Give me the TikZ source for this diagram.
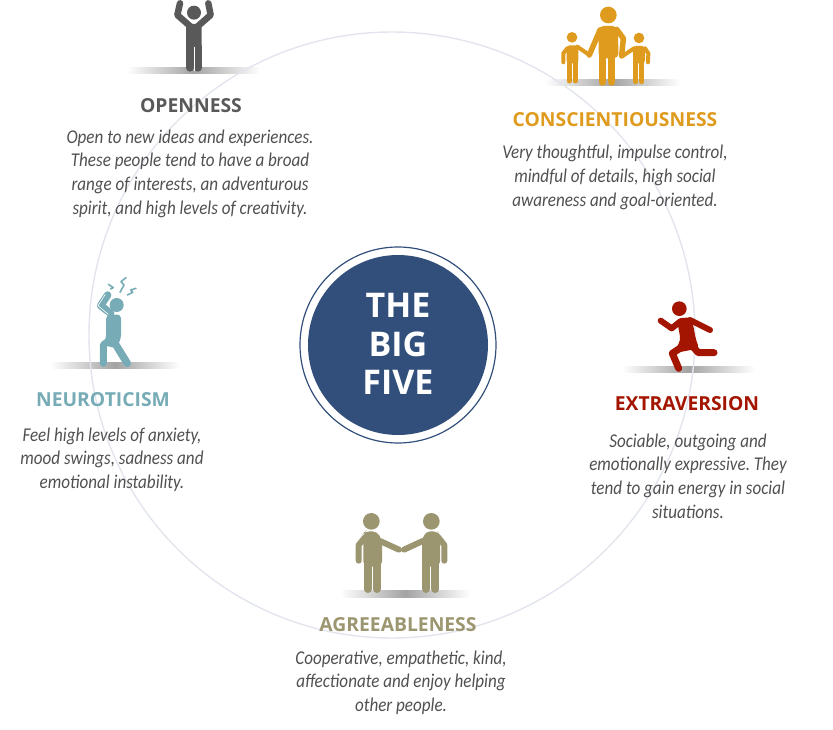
\documentclass[tikz,border=0pt]{standalone}
\usepackage{fontspec}
\setmainfont[FakeStretch=0.875]{Carlito}
\newfontfamily\titlefont{Open Sans}
\usetikzlibrary{calc}
\definecolor{opencol}{HTML}{595959}
\definecolor{conscol}{HTML}{DF9B1D}
\definecolor{neurcol}{HTML}{77ACB6}
\definecolor{extrcol}{HTML}{A31500}
\definecolor{agrecol}{HTML}{9C9670}
\definecolor{bluecol}{HTML}{324F7B}
\definecolor{ringcol}{HTML}{E2E5ED}
\definecolor{textcol}{HTML}{505050}
\tikzset{
    title/.style={font=\titlefont\bfseries\fontsize{19.3}{23}\selectfont},
    blurb/.style={align=center, text=textcol, font=\frenchspacing\itshape\fontsize{19.5}{23.7}\selectfont},
    groundshade/.style={left color=white, right color=white, middle color=black!36},
    limb/.style={line cap=round, line join=round, line width=#1},
}
\begin{document}
\begin{tikzpicture}[x=1pt, y=-1pt]
    \useasboundingbox (0,0) rectangle (833,730);

    % Ground shadows
    \fill[groundshade] (127,68) rectangle (260,74);
    \fill[groundshade] (545,80) rectangle (680,86);
    \fill[groundshade] (50,362) rectangle (180,368);
    \fill[groundshade] (622,366) rectangle (755,372);
    \fill[groundshade] (340,590) rectangle (470,597);

    % Outer ring
    \draw[ringcol, line width=1.4pt] (392,335) circle (303);

    % Centre disc
    \draw[bluecol, line width=1.2pt] (398,345) circle (98);
    \node[circle, fill=bluecol, minimum size=180pt, inner sep=0pt] (disc) at (398,345) {};
    \node[text=white, align=center, font=\titlefont\bfseries\fontsize{34}{38.5}\selectfont] (disctext) at (398,344) {THE\\BIG\\FIVE};

    % Openness figure
    \begin{scope}[shift={(120,0)}, scale=1/3, opencol]
        \fill (222,38) circle (21);
        \fill[rounded corners=4pt] (198,72) -- (245,72) -- (245,150) -- (198,150) -- cycle;
        \draw[limb=8pt] (210,140) -- (210,203);
        \draw[limb=8pt] (234,140) -- (234,203);
        \draw[white, line width=.6pt] (222,140) -- (222,212);
        \draw[limb=6.5pt] (180,10) -- (172,45) -- (212,80);
        \draw[limb=6.5pt] (265,10) -- (272,45) -- (232,80);
    \end{scope}

    % Conscientiousness figure
    \begin{scope}[shift={(540,0)}, scale=1/3, conscol]
        \fill (205,45) circle (25);
        \fill[rounded corners=5pt] (175,78) -- (233,78) -- (236,175) -- (176,175) -- cycle;
        \draw[limb=7.5pt] (188,165) -- (188,246);
        \draw[limb=7.5pt] (215,165) -- (215,246);
        \draw[limb=5.5pt] (180,90) -- (148,165);
        \draw[limb=5.5pt] (230,88) -- (250,115) -- (245,168);
        \fill (96,112) circle (16);
        \fill[rounded corners=3pt] (80,136) -- (115,136) -- (115,190) -- (80,190) -- cycle;
        \draw[limb=5pt] (88,185) -- (88,243);
        \draw[limb=5pt] (106,185) -- (106,243);
        \draw[limb=4pt] (82,145) -- (70,160) -- (70,187);
        \draw[limb=4pt] (112,140) -- (148,165);
        \fill (297,114) circle (16);
        \fill[rounded corners=3pt] (279,138) -- (315,138) -- (315,190) -- (279,190) -- cycle;
        \draw[limb=5pt] (287,185) -- (287,245);
        \draw[limb=5pt] (305,185) -- (305,245);
        \draw[limb=4pt] (315,145) -- (325,160) -- (324,187);
        \draw[limb=4pt] (282,145) -- (248,168);
    \end{scope}

    % Neuroticism figure
    \begin{scope}[shift={(40,265)}, scale=1/3, neurcol]
        \fill (230,120) circle (21);
        \fill[rounded corners=4pt] (198,150) -- (243,148) -- (243,222) -- (228,250) -- (190,240) -- (198,222) -- cycle;
        \draw[limb=7pt] (205,228) -- (190,240) -- (190,295);
        \draw[limb=7.5pt] (228,240) -- (262,295);
        \draw[limb=7.5pt] (212,145) -- (182,122) -- (203,90);
        \draw[white, line width=.6pt] (205,148) -- (174,122) -- (196,88);
        \draw[limb=1.6pt] (205,58) -- (220,68) -- (212,72);
        \draw[limb=1.6pt] (258,38) -- (243,50) -- (252,60) -- (240,82);
        \draw[limb=1.6pt] (288,70) -- (272,75) -- (278,82) -- (262,90);
    \end{scope}

    % Extraversion figure
    \begin{scope}[shift={(620,290)}, scale=1/3, extrcol]
        \fill (178,56) circle (22);
        \fill[rounded corners=4pt] (170,85) -- (215,82) -- (228,150) -- (238,175) -- (160,190) -- (182,150) -- cycle;
        \draw[limb=6pt] (122,92) -- (155,115) -- (180,95);
        \draw[limb=6pt] (210,90) -- (270,120);
        \draw[limb=7pt] (205,155) -- (235,188) -- (282,188);
        \draw[limb=7pt] (195,165) -- (157,190) -- (176,235);
    \end{scope}

    % Agreeableness figure
    \begin{scope}[shift={(330,500)}, scale=1/3, agrecol]
        \fill (124,64) circle (25);
        \fill[rounded corners=5pt] (106,94) -- (142,94) -- (156,122) -- (156,200) -- (100,200) -- (100,100) -- cycle;
        \draw[limb=8pt] (113,190) -- (113,267);
        \draw[limb=8pt] (141,190) -- (141,267);
        \draw[limb=6pt] (150,123) -- (207,149);
        \draw[limb=6pt] (105,112) -- (86,135) -- (86,182);
        \fill (304,64) circle (25);
        \fill[rounded corners=5pt] (286,94) -- (322,94) -- (330,105) -- (330,200) -- (276,200) -- (276,122) -- cycle;
        \draw[limb=8pt] (288,190) -- (288,267);
        \draw[limb=8pt] (316,190) -- (316,267);
        \draw[limb=6pt] (278,123) -- (222,149);
        \draw[limb=6pt] (325,112) -- (343,135) -- (343,182);
    \end{scope}

    % Titles
    \node[title, text=opencol] (openness) at (191,106) {OPENNESS};
    \node[title, text=conscol] (conscientiousness) at (615,120) {CONSCIENTIOUSNESS};
    \node[title, text=neurcol] (neuroticism) at (103,400) {NEUROTICISM};
    \node[title, text=extrcol] (extraversion) at (687,404) {EXTRAVERSION};
    \node[title, text=agrecol] (agreeableness) at (398,625) {AGREEABLENESS};

    % Descriptions
    \node[blurb] (opennesstext) at (190,173.5) {Open to new ideas and experiences.\\These people tend to have a broad\\range of interests, an adventurous\\spirit, and high levels of creativity.};
    \node[blurb] (consctext) at (615,177.5) {Very thoughtful, impulse control,\\mindful of details, high social\\awareness and goal-oriented.};
    \node[blurb] (neurotext) at (112,459.5) {Feel high levels of anxiety,\\mood swings, sadness and\\emotional instability.};
    \node[blurb] (extratext) at (688,476) {Sociable, outgoing and\\emotionally expressive. They\\tend to gain energy in social\\situations.};
    \node[blurb] (agreetext) at (401,682.5) {Cooperative, empathetic, kind,\\affectionate and enjoy helping\\other people.};
\end{tikzpicture}
\end{document}
